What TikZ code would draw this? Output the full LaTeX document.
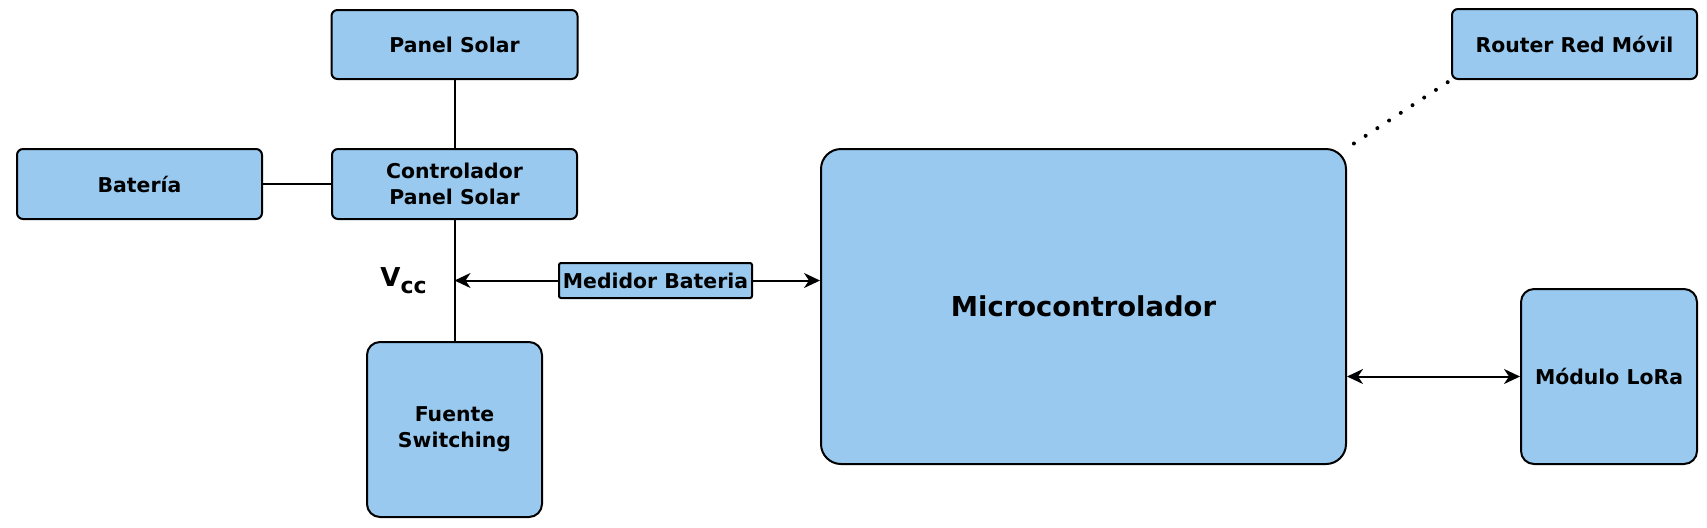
\documentclass[tikz,border=0pt]{standalone}
\usepackage{fontspec}
\setmainfont{DejaVu Sans}
\usetikzlibrary{arrows.meta}
\definecolor{boxblue}{RGB}{153,201,238}

\begin{document}
\begin{tikzpicture}[x=0.5pt,y=-0.5pt,
        block/.style={draw=black, line width=1pt, fill=boxblue, rounded corners=3pt,
            inner sep=0pt, align=center, font=\fontsize{10.2}{13}\selectfont\bfseries},
        link/.style={line width=1pt},
        >={Stealth[length=8pt,width=7.5pt,inset=2.5pt]}]
        \useasboundingbox (0,0) rectangle (1707,527);

        % draw the blocks
        \node[block, minimum width=123pt, minimum height=34.5pt] (psolar) at (454.5,44.5) {Panel Solar};
        \node[block, minimum width=122.5pt, minimum height=35pt] (ctrl) at (454.5,184) {Controlador\\Panel Solar};
        \node[block, minimum width=122.5pt, minimum height=35pt] (bat) at (139.5,184) {Batería};
        \node[block, minimum width=87.5pt, minimum height=87.5pt, rounded corners=6.5pt] (fuente) at (454.5,429.5) {Fuente\\Switching};
        \node[block, minimum width=96.5pt, minimum height=17.5pt, rounded corners=1pt] (medidor) at (655.5,280.5) {Medidor Bateria};
        \node[block, minimum width=262.5pt, minimum height=157.5pt, rounded corners=10pt,
            font=\fontsize{13.7}{16}\selectfont\bfseries] (micro) at (1083.5,306.5) {Microcontrolador};
        \node[block, minimum width=122.5pt, minimum height=35pt] (router) at (1574.5,44) {Router Red Móvil};
        \node[block, minimum width=88pt, minimum height=87.5pt, rounded corners=6.5pt] (lora) at (1609,376.5) {Módulo LoRa};

        % the texts
        \node[anchor=base west, inner sep=0pt, font=\fontsize{13}{15}\selectfont\bfseries] (vcclabel) at (380,286)
            {V\raisebox{-3.5pt}{\fontsize{11}{13}\selectfont cc}};

        % the point on the supply line where the meter arrow ends
        \coordinate (vcc) at (454.5,280.5);

        % draw the lines
        \draw[link] (psolar) -- (ctrl);
        \draw[link] (bat) -- (ctrl);
        \draw[link] (ctrl) -- (fuente);

        % draw the arrows
        \draw[link,->] (medidor.west) -- (vcc);
        \draw[link,->] (medidor.east) -- (micro.west |- medidor.east);
        \draw[link,<->] (micro.east |- lora.west) -- (lora.west);
        \draw[line width=2pt, dash pattern=on 0pt off 7pt, line cap=round, shorten <=2pt, shorten >=1pt]
            (router.south west) -- (micro.north east);

\end{tikzpicture}
\end{document}
